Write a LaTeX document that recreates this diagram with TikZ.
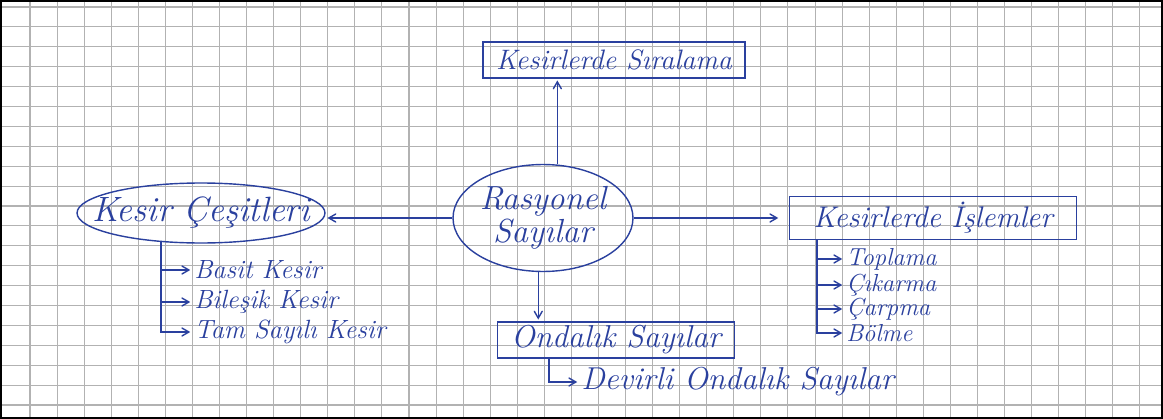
\documentclass[tikz,border=0pt]{standalone}
\usepackage{fontspec}
\usepackage{tikz}
\usetikzlibrary{shapes.geometric, positioning, arrows}

\definecolor{ink}{RGB}{42,64,158}
\definecolor{paper grid}{RGB}{178,178,178}

\begin{document}
\begin{tikzpicture}[x=0.02cm,y=-0.02cm,shorten >=1pt,semithick,>=angle 60]

			\tikzstyle{every node}=[text=ink,font=\itshape]
			\tikzstyle{grid line}=[draw=paper grid,line width=0.6pt]
			\tikzstyle{ink line}=[draw=ink,thick]

			\tikzstyle{oval}=[ellipse,ink line,inner sep=-2cm]
			\tikzstyle{box}=[rectangle,ink line,inner sep=1pt]
			\tikzstyle{item}=[anchor=west,inner sep=1pt,font=\itshape\fontsize{15}{15}\selectfont]

			\useasboundingbox (0,0) rectangle (1163,419);

			% squared paper
			\foreach \i in {0,...,41}
				\draw[grid line] ({30+27.07*\i},0) -- ({30+27.07*\i},419);
			\foreach \j in {0,...,20}
				\draw[grid line] (0,{7+19.9*\j}) -- (1163,{7+19.9*\j});
			\draw[line width=1.6pt] (0.8,0.8) rectangle (1162.2,418.2);

			\node[oval,minimum width=3.6cm,minimum height=2.14cm,align=center,
				font=\itshape\fontsize{19}{19}\selectfont] (RS) at (543,218) {Rasyonel\\Sayılar};
			\node[oval,minimum width=4.96cm,minimum height=1.2cm,
				font=\itshape\fontsize{20}{20}\selectfont] (KC) at (201,213) {Kesir Çeşitleri};
			\node[box,minimum width=5.24cm,minimum height=0.72cm,
				font=\itshape\fontsize{16}{16}\selectfont] (SR) at (614,60) {Kesirlerde Sıralama};
			\node[box,minimum width=5.74cm,minimum height=0.86cm,
				font=\itshape\fontsize{17}{17}\selectfont] (KI) at (933,218) {Kesirlerde İşlemler};
			\node[box,minimum width=4.74cm,minimum height=0.72cm,
				font=\itshape\fontsize{18}{18}\selectfont] (OS) at (616,340) {Ondalık Sayılar};

			\node[item] (BK) at (192,270) {Basit Kesir};
			\node[item] (BL) at (192,302) {Bileşik Kesir};
			\node[item] (TS) at (192,332) {Tam Sayılı Kesir};

			\node[item,font=\itshape\fontsize{14}{14}\selectfont] (TP) at (844,259) {Toplama};
			\node[item,font=\itshape\fontsize{14}{14}\selectfont] (CK) at (844,285) {Çıkarma};
			\node[item,font=\itshape\fontsize{14}{14}\selectfont] (CR) at (844,309) {Çarpma};
			\node[item,font=\itshape\fontsize{14}{14}\selectfont] (BM) at (844,333) {Bölme};

			\node[item,font=\itshape\fontsize{18}{18}\selectfont] (DO) at (579,382) {Devirli Ondalık Sayılar};

			\draw[ink line,->] (RS.75) -- (RS.75 |- SR.south);
			\draw[ink line,->] (RS.265) -- (RS.265 |- OS.north);
			\draw[ink line,->] (RS.west) -- (RS.west -| KC.east);
			\draw[ink line,->,shorten >=6pt] (RS.east) -- (RS.east -| KI.west);

			\draw[ink line,->] (KC.216) |- (BK.west);
			\draw[ink line,->] (KC.216) |- (BL.west);
			\draw[ink line,->] (KC.216) |- (TS.west);

			\draw[ink line,->] ([xshift=0.56cm]KI.south west) |- (TP.west);
			\draw[ink line,->] ([xshift=0.56cm]KI.south west) |- (CK.west);
			\draw[ink line,->] ([xshift=0.56cm]KI.south west) |- (CR.west);
			\draw[ink line,->] ([xshift=0.56cm]KI.south west) |- (BM.west);

			\draw[ink line,->] ([xshift=1.04cm]OS.south west) |- (DO.west);

		\end{tikzpicture}
\end{document}
